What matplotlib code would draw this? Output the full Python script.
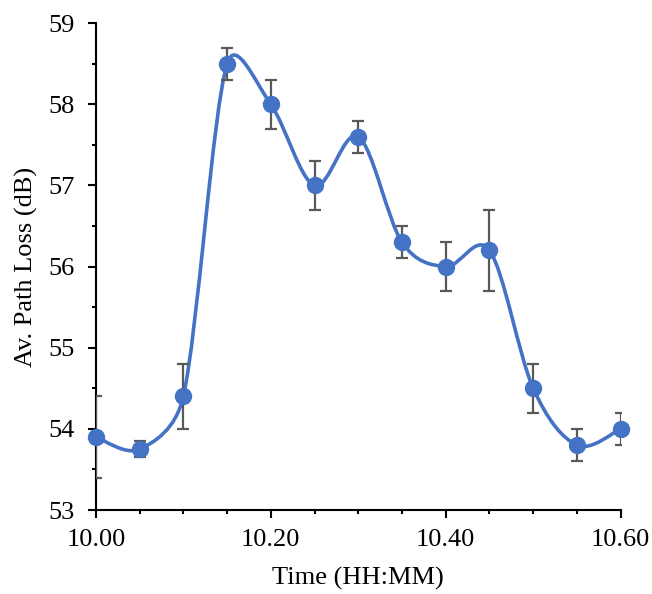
import matplotlib
matplotlib.use("Agg")
import matplotlib.pyplot as plt
from matplotlib.path import Path
from matplotlib.patches import PathPatch
from matplotlib.ticker import MultipleLocator, FormatStrFormatter
import numpy as np

times = [10.00, 10.05, 10.10, 10.15, 10.20, 10.25, 10.30, 10.35, 10.40, 10.45, 10.50, 10.55, 10.60]
path_loss = [53.9, 53.75, 54.4, 58.5, 58.0, 57.0, 57.6, 56.3, 56.0, 56.2, 54.5, 53.8, 54.0]
errors = [0.5, 0.1, 0.4, 0.2, 0.3, 0.3, 0.2, 0.2, 0.3, 0.5, 0.3, 0.2, 0.2]

plt.rcParams['font.family'] = ['Liberation Serif', 'DejaVu Serif']

fig = plt.figure(figsize=(6.52, 5.94), dpi=100)
ax = fig.add_axes([0.147, 0.1414, 0.805, 0.8196])

line_color = '#4472C4'
err_color = '#595959'

ax.set_xlim(10.00, 10.60)
ax.set_ylim(53, 59)

# Excel-style smoothed line: Bezier segments computed in display space
pts = ax.transData.transform(np.column_stack([times, path_loss]))
n = len(pts)
verts = [pts[0]]
codes = [Path.MOVETO]
for i in range(n - 1):
    p0 = pts[i - 1] if i > 0 else pts[i]
    p1 = pts[i]
    p2 = pts[i + 1]
    p3 = pts[i + 2] if i + 2 < n else pts[i + 1]
    d12 = np.hypot(*(p2 - p1))
    d02 = np.hypot(*(p2 - p0))
    d13 = np.hypot(*(p3 - p1))
    f0 = 1 / 6
    f1 = 1 / 6
    if d02 / 6 >= d12 / 2 and d02 > 0:
        f0 = d12 / d02 / 2
    if d13 / 6 >= d12 / 2 and d13 > 0:
        f1 = d12 / d13 / 2
    c1 = p1 + f0 * (p2 - p0)
    c2 = p2 - f1 * (p3 - p1)
    verts += [c1, c2, p2]
    codes += [Path.CURVE4] * 3
verts = ax.transData.inverted().transform(np.array(verts))
patch = PathPatch(Path(verts, codes), facecolor='none', edgecolor=line_color,
                  lw=2.6, zorder=2, capstyle='round', joinstyle='round')
ax.add_patch(patch)

ax.errorbar(times, path_loss, yerr=errors, fmt='none', ecolor=err_color,
            elinewidth=1.6, capsize=4.3, capthick=1.6, zorder=3)
ax.plot(times, path_loss, 'o', color=line_color, markersize=11.5, zorder=4, clip_on=False)

ax.xaxis.set_major_locator(MultipleLocator(0.2))
ax.xaxis.set_minor_locator(MultipleLocator(0.05))
ax.yaxis.set_major_locator(MultipleLocator(1))
ax.yaxis.set_minor_locator(MultipleLocator(0.5))
ax.xaxis.set_major_formatter(FormatStrFormatter('%.2f'))
ax.yaxis.set_major_formatter(FormatStrFormatter('%d'))

for s in ['top', 'right']:
    ax.spines[s].set_visible(False)
for s in ['left', 'bottom']:
    ax.spines[s].set_linewidth(1.5)
    ax.spines[s].set_color('black')

ax.tick_params(which='major', direction='out', length=6, width=1.5, labelsize=19)
ax.tick_params(which='minor', direction='out', length=3, width=1.5)
ax.tick_params(axis='y', which='major', pad=9.5)
ax.tick_params(axis='x', which='major', pad=8)

ax.set_xlabel('Time (HH:MM)', fontsize=19, labelpad=11)
ax.set_ylabel('Av. Path Loss (dB)', fontsize=19, labelpad=7)

fig.savefig('out.png', dpi=100)
